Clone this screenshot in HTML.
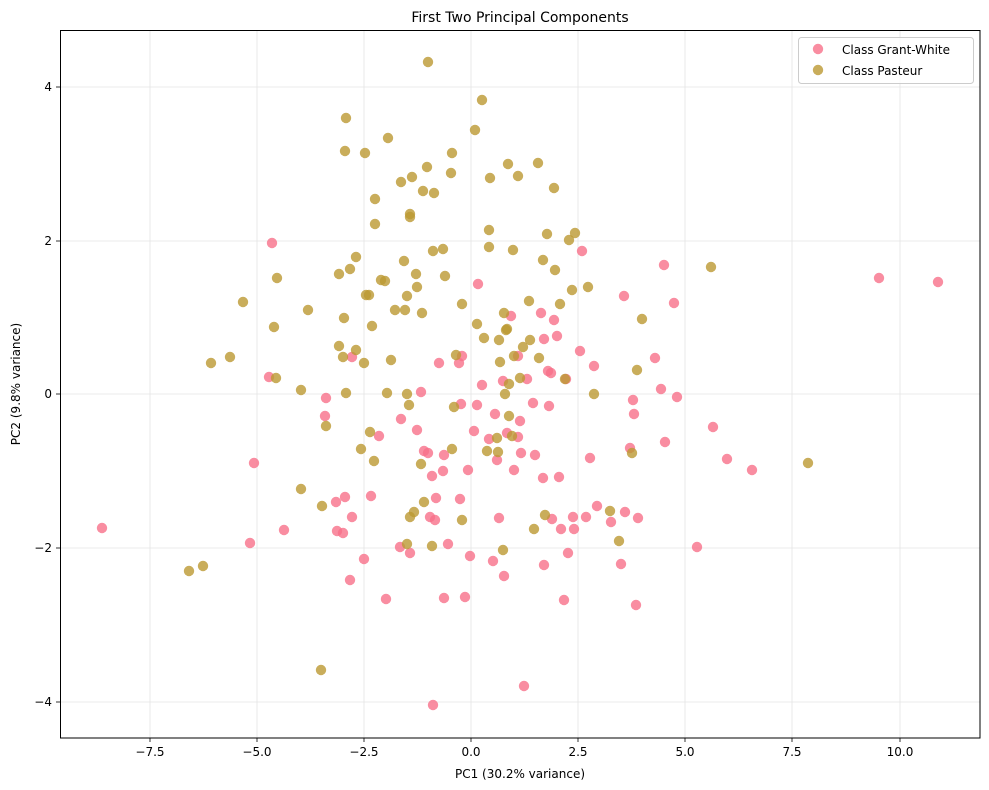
<!DOCTYPE html>
<html><head><meta charset="utf-8"><style>body{margin:0;background:#fff}svg{display:block}text{font-family:"DejaVu Sans","Liberation Sans",sans-serif}</style></head><body>
<svg width="989" height="790" xmlns="http://www.w3.org/2000/svg">
<rect width="989" height="790" fill="#fff"/>
<g stroke="#e5e5e5" stroke-width="0.8">
<line x1="150" y1="31" x2="150" y2="738"/><line x1="257" y1="31" x2="257" y2="738"/><line x1="364" y1="31" x2="364" y2="738"/><line x1="471" y1="31" x2="471" y2="738"/><line x1="578" y1="31" x2="578" y2="738"/><line x1="685" y1="31" x2="685" y2="738"/><line x1="792" y1="31" x2="792" y2="738"/><line x1="900" y1="31" x2="900" y2="738"/>
<line x1="60" y1="87" x2="980" y2="87"/><line x1="60" y1="241" x2="980" y2="241"/><line x1="60" y1="394" x2="980" y2="394"/><line x1="60" y1="548" x2="980" y2="548"/><line x1="60" y1="702" x2="980" y2="702"/>
</g>
<g fill="#f77189" fill-opacity="0.8">
<circle cx="102" cy="528" r="5.2"/><circle cx="272" cy="243" r="5.2"/><circle cx="254" cy="463" r="5.2"/><circle cx="250" cy="543" r="5.2"/><circle cx="284" cy="530" r="5.2"/><circle cx="269" cy="377" r="5.2"/><circle cx="326" cy="398" r="5.2"/><circle cx="325" cy="416" r="5.2"/><circle cx="336" cy="502" r="5.2"/><circle cx="337" cy="531" r="5.2"/><circle cx="345" cy="497" r="5.2"/><circle cx="343" cy="533" r="5.2"/><circle cx="352" cy="517" r="5.2"/><circle cx="350" cy="580" r="5.2"/><circle cx="352" cy="357" r="5.2"/><circle cx="364" cy="559" r="5.2"/><circle cx="371" cy="496" r="5.2"/><circle cx="379" cy="436" r="5.2"/><circle cx="386" cy="599" r="5.2"/><circle cx="400" cy="547" r="5.2"/><circle cx="401" cy="419" r="5.2"/><circle cx="410" cy="553" r="5.2"/><circle cx="417" cy="430" r="5.2"/><circle cx="421" cy="392" r="5.2"/><circle cx="424" cy="451" r="5.2"/><circle cx="428" cy="453" r="5.2"/><circle cx="432" cy="476" r="5.2"/><circle cx="430" cy="517" r="5.2"/><circle cx="435" cy="520" r="5.2"/><circle cx="436" cy="498" r="5.2"/><circle cx="439" cy="363" r="5.2"/><circle cx="443" cy="471" r="5.2"/><circle cx="444" cy="455" r="5.2"/><circle cx="444" cy="598" r="5.2"/><circle cx="448" cy="544" r="5.2"/><circle cx="433" cy="705" r="5.2"/><circle cx="459" cy="363" r="5.2"/><circle cx="460" cy="499" r="5.2"/><circle cx="461" cy="404" r="5.2"/><circle cx="462" cy="356" r="5.2"/><circle cx="465" cy="597" r="5.2"/><circle cx="468" cy="470" r="5.2"/><circle cx="470" cy="556" r="5.2"/><circle cx="474" cy="431" r="5.2"/><circle cx="477" cy="405" r="5.2"/><circle cx="478" cy="284" r="5.2"/><circle cx="482" cy="385" r="5.2"/><circle cx="489" cy="439" r="5.2"/><circle cx="493" cy="561" r="5.2"/><circle cx="495" cy="414" r="5.2"/><circle cx="497" cy="460" r="5.2"/><circle cx="499" cy="518" r="5.2"/><circle cx="503" cy="381" r="5.2"/><circle cx="504" cy="576" r="5.2"/><circle cx="507" cy="433" r="5.2"/><circle cx="511" cy="316" r="5.2"/><circle cx="514" cy="470" r="5.2"/><circle cx="518" cy="437" r="5.2"/><circle cx="518" cy="356" r="5.2"/><circle cx="520" cy="421" r="5.2"/><circle cx="521" cy="453" r="5.2"/><circle cx="524" cy="686" r="5.2"/><circle cx="527" cy="379" r="5.2"/><circle cx="533" cy="403" r="5.2"/><circle cx="535" cy="455" r="5.2"/><circle cx="541" cy="313" r="5.2"/><circle cx="543" cy="478" r="5.2"/><circle cx="544" cy="339" r="5.2"/><circle cx="544" cy="565" r="5.2"/><circle cx="549" cy="406" r="5.2"/><circle cx="548" cy="371" r="5.2"/><circle cx="551" cy="373" r="5.2"/><circle cx="552" cy="519" r="5.2"/><circle cx="554" cy="320" r="5.2"/><circle cx="557" cy="336" r="5.2"/><circle cx="559" cy="477" r="5.2"/><circle cx="561" cy="529" r="5.2"/><circle cx="564" cy="600" r="5.2"/><circle cx="566" cy="379" r="5.2"/><circle cx="568" cy="553" r="5.2"/><circle cx="573" cy="517" r="5.2"/><circle cx="574" cy="529" r="5.2"/><circle cx="580" cy="351" r="5.2"/><circle cx="582" cy="251" r="5.2"/><circle cx="586" cy="517" r="5.2"/><circle cx="590" cy="458" r="5.2"/><circle cx="594" cy="366" r="5.2"/><circle cx="597" cy="506" r="5.2"/><circle cx="611" cy="522" r="5.2"/><circle cx="621" cy="564" r="5.2"/><circle cx="624" cy="296" r="5.2"/><circle cx="625" cy="512" r="5.2"/><circle cx="630" cy="448" r="5.2"/><circle cx="633" cy="400" r="5.2"/><circle cx="634" cy="414" r="5.2"/><circle cx="636" cy="605" r="5.2"/><circle cx="638" cy="518" r="5.2"/><circle cx="655" cy="358" r="5.2"/><circle cx="661" cy="389" r="5.2"/><circle cx="664" cy="265" r="5.2"/><circle cx="665" cy="442" r="5.2"/><circle cx="674" cy="303" r="5.2"/><circle cx="677" cy="397" r="5.2"/><circle cx="713" cy="427" r="5.2"/><circle cx="697" cy="547" r="5.2"/><circle cx="727" cy="459" r="5.2"/><circle cx="752" cy="470" r="5.2"/><circle cx="879" cy="278" r="5.2"/><circle cx="938" cy="282" r="5.2"/>
</g>
<g fill="#bb9832" fill-opacity="0.8">
<circle cx="428" cy="62" r="5.2"/><circle cx="482" cy="100" r="5.2"/><circle cx="346" cy="118" r="5.2"/><circle cx="345" cy="151" r="5.2"/><circle cx="365" cy="153" r="5.2"/><circle cx="388" cy="138" r="5.2"/><circle cx="475" cy="130" r="5.2"/><circle cx="452" cy="153" r="5.2"/><circle cx="427" cy="167" r="5.2"/><circle cx="412" cy="177" r="5.2"/><circle cx="451" cy="173" r="5.2"/><circle cx="518" cy="176" r="5.2"/><circle cx="508" cy="164" r="5.2"/><circle cx="538" cy="163" r="5.2"/><circle cx="554" cy="188" r="5.2"/><circle cx="401" cy="182" r="5.2"/><circle cx="434" cy="193" r="5.2"/><circle cx="423" cy="191" r="5.2"/><circle cx="375" cy="199" r="5.2"/><circle cx="410" cy="214" r="5.2"/><circle cx="410" cy="217" r="5.2"/><circle cx="490" cy="178" r="5.2"/><circle cx="375" cy="224" r="5.2"/><circle cx="443" cy="249" r="5.2"/><circle cx="433" cy="251" r="5.2"/><circle cx="489" cy="230" r="5.2"/><circle cx="547" cy="234" r="5.2"/><circle cx="575" cy="233" r="5.2"/><circle cx="569" cy="240" r="5.2"/><circle cx="489" cy="247" r="5.2"/><circle cx="513" cy="250" r="5.2"/><circle cx="356" cy="257" r="5.2"/><circle cx="350" cy="269" r="5.2"/><circle cx="404" cy="261" r="5.2"/><circle cx="416" cy="274" r="5.2"/><circle cx="445" cy="276" r="5.2"/><circle cx="339" cy="274" r="5.2"/><circle cx="381" cy="280" r="5.2"/><circle cx="385" cy="281" r="5.2"/><circle cx="543" cy="260" r="5.2"/><circle cx="588" cy="287" r="5.2"/><circle cx="555" cy="270" r="5.2"/><circle cx="572" cy="290" r="5.2"/><circle cx="369" cy="295" r="5.2"/><circle cx="366" cy="295" r="5.2"/><circle cx="417" cy="287" r="5.2"/><circle cx="407" cy="296" r="5.2"/><circle cx="277" cy="278" r="5.2"/><circle cx="711" cy="267" r="5.2"/><circle cx="243" cy="302" r="5.2"/><circle cx="308" cy="310" r="5.2"/><circle cx="395" cy="310" r="5.2"/><circle cx="405" cy="310" r="5.2"/><circle cx="422" cy="313" r="5.2"/><circle cx="462" cy="304" r="5.2"/><circle cx="529" cy="301" r="5.2"/><circle cx="560" cy="304" r="5.2"/><circle cx="642" cy="319" r="5.2"/><circle cx="344" cy="318" r="5.2"/><circle cx="274" cy="327" r="5.2"/><circle cx="372" cy="326" r="5.2"/><circle cx="477" cy="324" r="5.2"/><circle cx="484" cy="338" r="5.2"/><circle cx="530" cy="340" r="5.2"/><circle cx="514" cy="356" r="5.2"/><circle cx="499" cy="340" r="5.2"/><circle cx="523" cy="347" r="5.2"/><circle cx="507" cy="329" r="5.2"/><circle cx="504" cy="313" r="5.2"/><circle cx="506" cy="330" r="5.2"/><circle cx="339" cy="346" r="5.2"/><circle cx="343" cy="357" r="5.2"/><circle cx="356" cy="350" r="5.2"/><circle cx="364" cy="363" r="5.2"/><circle cx="391" cy="360" r="5.2"/><circle cx="456" cy="355" r="5.2"/><circle cx="211" cy="363" r="5.2"/><circle cx="230" cy="357" r="5.2"/><circle cx="276" cy="378" r="5.2"/><circle cx="500" cy="362" r="5.2"/><circle cx="539" cy="358" r="5.2"/><circle cx="637" cy="370" r="5.2"/><circle cx="301" cy="390" r="5.2"/><circle cx="346" cy="393" r="5.2"/><circle cx="387" cy="393" r="5.2"/><circle cx="407" cy="394" r="5.2"/><circle cx="509" cy="384" r="5.2"/><circle cx="505" cy="394" r="5.2"/><circle cx="520" cy="378" r="5.2"/><circle cx="565" cy="379" r="5.2"/><circle cx="594" cy="394" r="5.2"/><circle cx="326" cy="426" r="5.2"/><circle cx="409" cy="405" r="5.2"/><circle cx="454" cy="407" r="5.2"/><circle cx="509" cy="416" r="5.2"/><circle cx="512" cy="436" r="5.2"/><circle cx="370" cy="432" r="5.2"/><circle cx="361" cy="449" r="5.2"/><circle cx="374" cy="461" r="5.2"/><circle cx="452" cy="449" r="5.2"/><circle cx="487" cy="451" r="5.2"/><circle cx="498" cy="452" r="5.2"/><circle cx="497" cy="438" r="5.2"/><circle cx="421" cy="464" r="5.2"/><circle cx="632" cy="453" r="5.2"/><circle cx="808" cy="463" r="5.2"/><circle cx="301" cy="489" r="5.2"/><circle cx="424" cy="502" r="5.2"/><circle cx="322" cy="506" r="5.2"/><circle cx="414" cy="512" r="5.2"/><circle cx="462" cy="520" r="5.2"/><circle cx="545" cy="515" r="5.2"/><circle cx="610" cy="511" r="5.2"/><circle cx="534" cy="529" r="5.2"/><circle cx="619" cy="541" r="5.2"/><circle cx="407" cy="544" r="5.2"/><circle cx="432" cy="546" r="5.2"/><circle cx="503" cy="550" r="5.2"/><circle cx="189" cy="571" r="5.2"/><circle cx="203" cy="566" r="5.2"/><circle cx="321" cy="670" r="5.2"/><circle cx="410" cy="517" r="5.2"/>
</g>
<rect x="60.5" y="30.5" width="919.5" height="707.5" fill="none" stroke="#000" stroke-width="1"/>
<g stroke="#000" stroke-width="0.8">
<line x1="150" y1="738" x2="150" y2="742"/><line x1="257" y1="738" x2="257" y2="742"/><line x1="364" y1="738" x2="364" y2="742"/><line x1="471" y1="738" x2="471" y2="742"/><line x1="578" y1="738" x2="578" y2="742"/><line x1="685" y1="738" x2="685" y2="742"/><line x1="792" y1="738" x2="792" y2="742"/><line x1="900" y1="738" x2="900" y2="742"/>
<line x1="56" y1="87" x2="60" y2="87"/><line x1="56" y1="241" x2="60" y2="241"/><line x1="56" y1="394" x2="60" y2="394"/><line x1="56" y1="548" x2="60" y2="548"/><line x1="56" y1="702" x2="60" y2="702"/>
</g>
<g font-size="12" fill="#000" text-anchor="middle">
<text x="150" y="756">−7.5</text><text x="257" y="756">−5.0</text><text x="364" y="756">−2.5</text><text x="471" y="756">0.0</text><text x="578" y="756">2.5</text><text x="685" y="756">5.0</text><text x="792" y="756">7.5</text><text x="900" y="756">10.0</text>
</g>
<g font-size="12" fill="#000" text-anchor="end">
<text x="52" y="91">4</text><text x="52" y="245">2</text><text x="52" y="398">0</text><text x="52" y="552">−2</text><text x="52" y="706">−4</text>
</g>
<text x="520" y="778" font-size="12" text-anchor="middle">PC1 (30.2% variance)</text>
<text transform="translate(20,384) rotate(-90)" font-size="12" text-anchor="middle">PC2 (9.8% variance)</text>
<text x="520" y="22" font-size="14" text-anchor="middle">First Two Principal Components</text>
<rect x="798.5" y="37.5" width="175" height="46" rx="3" fill="#fff" fill-opacity="0.8" stroke="#ccc"/>
<circle cx="818" cy="49" r="5.2" fill="#f77189" fill-opacity="0.8"/>
<circle cx="818" cy="70" r="5.2" fill="#bb9832" fill-opacity="0.8"/>
<text x="842" y="54" font-size="12">Class Grant-White</text>
<text x="842" y="75" font-size="12">Class Pasteur</text>
</svg>
</body></html>
